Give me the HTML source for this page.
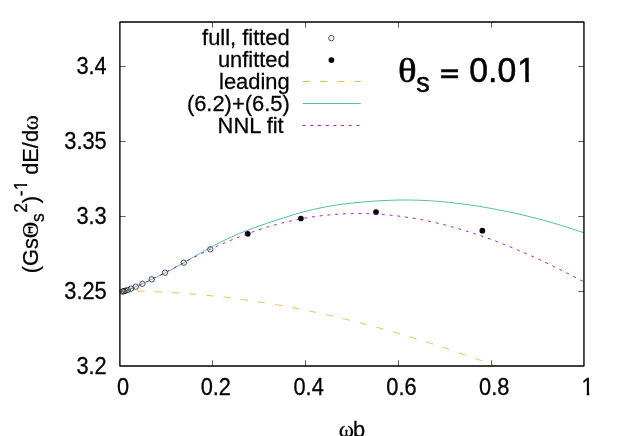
<!DOCTYPE html>
<html><head><meta charset="utf-8"><title>plot</title>
<style>
html,body{margin:0;padding:0;background:#fff;}
body{width:623px;height:436px;overflow:hidden;}
svg{display:block;will-change:transform;}
text{font-family:"Liberation Sans",sans-serif;fill:#000;stroke:#000;stroke-width:0.26px;stroke-linejoin:round;}
.tt text{stroke-width:0.5px;}
</style></head><body>
<svg width="623" height="436" viewBox="0 0 623 436">
<rect x="0" y="0" width="623" height="436" fill="#fff"/>
<g stroke="#000" stroke-width="0.64" fill="none">
<path d="M119.90,291.50 h5.7 M583.95,291.50 h-5.7"/>
<path d="M119.90,216.50 h5.7 M583.95,216.50 h-5.7"/>
<path d="M119.90,141.50 h5.7 M583.95,141.50 h-5.7"/>
<path d="M119.90,66.50 h5.7 M583.95,66.50 h-5.7"/>
<path d="M212.50,366.00 v-5.7 M212.50,22.00 v5.7"/>
<path d="M305.50,366.00 v-5.7 M305.50,22.00 v5.7"/>
<path d="M398.50,366.00 v-5.7 M398.50,22.00 v5.7"/>
<path d="M491.50,366.00 v-5.7 M491.50,22.00 v5.7"/>
</g>
<text transform="translate(106.70,374.30) scale(1,1.06)" font-size="21.80px" text-anchor="end">3.2</text>
<text transform="translate(106.70,299.30) scale(1,1.06)" font-size="21.80px" text-anchor="end">3.25</text>
<text transform="translate(106.70,224.30) scale(1,1.06)" font-size="21.80px" text-anchor="end">3.3</text>
<text transform="translate(106.70,149.30) scale(1,1.06)" font-size="21.80px" text-anchor="end">3.35</text>
<text transform="translate(106.70,74.30) scale(1,1.06)" font-size="21.80px" text-anchor="end">3.4</text>
<text transform="translate(123.00,395.30) scale(1,1.06)" font-size="21.80px" text-anchor="middle">0</text>
<text transform="translate(215.81,395.30) scale(1,1.06)" font-size="21.80px" text-anchor="middle">0.2</text>
<text transform="translate(308.62,395.30) scale(1,1.06)" font-size="21.80px" text-anchor="middle">0.4</text>
<text transform="translate(401.43,395.30) scale(1,1.06)" font-size="21.80px" text-anchor="middle">0.6</text>
<text transform="translate(494.24,395.30) scale(1,1.06)" font-size="21.80px" text-anchor="middle">0.8</text>
<clipPath id="c1_1"><path d="M-2,-21.80 H13.08 V-2.57 H7.71 V1 H5.18 V-2.57 H-2 Z"/></clipPath><text transform="translate(581.59,395.30) scale(1,1.06)" font-size="21.80px" clip-path="url(#c1_1)">1</text>
<g fill="none" stroke="#000" stroke-width="0.7">
<circle cx="210.27" cy="249.32" r="2.7"/>
<circle cx="183.76" cy="262.69" r="2.7"/>
<circle cx="165.01" cy="272.66" r="2.7"/>
<circle cx="151.75" cy="279.36" r="2.7"/>
<circle cx="142.38" cy="283.76" r="2.7"/>
<circle cx="135.75" cy="286.70" r="2.7"/>
<circle cx="131.06" cy="288.65" r="2.7"/>
<circle cx="127.75" cy="289.94" r="2.7"/>
<circle cx="125.41" cy="290.75" r="2.7"/>
<circle cx="123.75" cy="291.24" r="2.7"/>
<circle cx="122.58" cy="291.50" r="2.7"/>
</g>
<g fill="#000" stroke="none">
<circle cx="247.75" cy="233.75" r="2.85"/>
<circle cx="300.90" cy="218.50" r="2.85"/>
<circle cx="376.00" cy="212.10" r="2.85"/>
<circle cx="482.35" cy="230.70" r="2.85"/>
</g>
<path d="M119.75,291.00 L120.91,291.00 L122.07,291.00 L123.23,291.01 L124.39,291.01 L125.55,291.02 L126.71,291.03 L127.87,291.04 L129.03,291.05 L130.19,291.06 L131.35,291.08 L132.52,291.09 L133.68,291.11 L134.84,291.13 L136.00,291.15 L137.16,291.17 L138.32,291.19 L139.48,291.22 L140.64,291.25 L141.80,291.27 L142.96,291.30 L144.12,291.34 L145.28,291.37 L146.44,291.40 L147.60,291.44 L148.76,291.48 L149.92,291.51 L151.08,291.55 L152.24,291.60 L153.40,291.64 L154.56,291.68 L155.73,291.73 L156.89,291.78 L158.05,291.83 L159.21,291.88 L160.37,291.93 L161.53,291.99 L162.69,292.04 L163.85,292.10 L165.01,292.16 L166.17,292.22 L167.33,292.28 L168.49,292.34 L169.65,292.41 L170.81,292.47 L171.97,292.54 L173.13,292.61 L174.29,292.68 L175.45,292.75 L176.61,292.82 L177.78,292.90 L178.94,292.98 L180.10,293.05 L181.26,293.13 L182.42,293.22 L183.58,293.30 L184.74,293.38 L185.90,293.47 L187.06,293.56 L188.22,293.64 L189.38,293.73 L190.54,293.83 L191.70,293.92 L192.86,294.01 L194.02,294.11 L195.18,294.21 L196.34,294.31 L197.50,294.41 L198.66,294.51 L199.82,294.61 L200.99,294.72 L202.15,294.83 L203.31,294.93 L204.47,295.04 L205.63,295.15 L206.79,295.27 L207.95,295.38 L209.11,295.50 L210.27,295.61 L211.43,295.73 L212.59,295.85 L213.75,295.97 L214.91,296.10 L216.07,296.22 L217.23,296.35 L218.39,296.48 L219.55,296.60 L220.71,296.73 L221.87,296.87 L223.03,297.00 L224.19,297.14 L225.36,297.27 L226.52,297.41 L227.68,297.55 L228.84,297.69 L230.00,297.83 L231.16,297.98 L232.32,298.12 L233.48,298.27 L234.64,298.42 L235.80,298.57 L236.96,298.72 L238.12,298.87 L239.28,299.02 L240.44,299.18 L241.60,299.34 L242.76,299.49 L243.92,299.65 L245.08,299.82 L246.24,299.98 L247.41,300.14 L248.57,300.31 L249.73,300.48 L250.89,300.64 L252.05,300.81 L253.21,300.99 L254.37,301.16 L255.53,301.33 L256.69,301.51 L257.85,301.69 L259.01,301.87 L260.17,302.05 L261.33,302.23 L262.49,302.41 L263.65,302.60 L264.81,302.78 L265.97,302.97 L267.13,303.16 L268.29,303.35 L269.45,303.54 L270.62,303.73 L271.78,303.93 L272.94,304.12 L274.10,304.32 L275.26,304.52 L276.42,304.72 L277.58,304.92 L278.74,305.13 L279.90,305.33 L281.06,305.54 L282.22,305.74 L283.38,305.95 L284.54,306.16 L285.70,306.37 L286.86,306.59 L288.02,306.80 L289.18,307.02 L290.34,307.24 L291.50,307.45 L292.66,307.67 L293.83,307.90 L294.99,308.12 L296.15,308.34 L297.31,308.57 L298.47,308.80 L299.63,309.02 L300.79,309.25 L301.95,309.49 L303.11,309.72 L304.27,309.95 L305.43,310.19 L306.59,310.42 L307.75,310.66 L308.91,310.90 L310.07,311.14 L311.23,311.39 L312.39,311.63 L313.55,311.87 L314.71,312.12 L315.87,312.37 L317.04,312.62 L318.20,312.87 L319.36,313.12 L320.52,313.37 L321.68,313.63 L322.84,313.88 L324.00,314.14 L325.16,314.40 L326.32,314.66 L327.48,314.92 L328.64,315.19 L329.80,315.45 L330.96,315.71 L332.12,315.98 L333.28,316.25 L334.44,316.52 L335.60,316.79 L336.76,317.06 L337.92,317.34 L339.08,317.61 L340.25,317.89 L341.41,318.16 L342.57,318.44 L343.73,318.72 L344.89,319.00 L346.05,319.29 L347.21,319.57 L348.37,319.86 L349.53,320.14 L350.69,320.43 L351.85,320.72 L353.01,321.01 L354.17,321.30 L355.33,321.60 L356.49,321.89 L357.65,322.19 L358.81,322.48 L359.97,322.78 L361.13,323.08 L362.29,323.38 L363.46,323.69 L364.62,323.99 L365.78,324.29 L366.94,324.60 L368.10,324.91 L369.26,325.22 L370.42,325.53 L371.58,325.84 L372.74,326.15 L373.90,326.46 L375.06,326.78 L376.22,327.09 L377.38,327.41 L378.54,327.73 L379.70,328.05 L380.86,328.37 L382.02,328.69 L383.18,329.02 L384.34,329.34 L385.50,329.67 L386.67,330.00 L387.83,330.33 L388.99,330.66 L390.15,330.99 L391.31,331.32 L392.47,331.65 L393.63,331.99 L394.79,332.32 L395.95,332.66 L397.11,333.00 L398.27,333.34 L399.43,333.68 L400.59,334.02 L401.75,334.37 L402.91,334.71 L404.07,335.06 L405.23,335.40 L406.39,335.75 L407.55,336.10 L408.71,336.45 L409.88,336.80 L411.04,337.16 L412.20,337.51 L413.36,337.87 L414.52,338.22 L415.68,338.58 L416.84,338.94 L418.00,339.30 L419.16,339.66 L420.32,340.02 L421.48,340.38 L422.64,340.75 L423.80,341.11 L424.96,341.48 L426.12,341.85 L427.28,342.22 L428.44,342.59 L429.60,342.96 L430.76,343.33 L431.92,343.71 L433.09,344.08 L434.25,344.46 L435.41,344.83 L436.57,345.21 L437.73,345.59 L438.89,345.97 L440.05,346.35 L441.21,346.74 L442.37,347.12 L443.53,347.51 L444.69,347.89 L445.85,348.28 L447.01,348.67 L448.17,349.06 L449.33,349.45 L450.49,349.84 L451.65,350.23 L452.81,350.62 L453.97,351.02 L455.13,351.41 L456.30,351.81 L457.46,352.21 L458.62,352.61 L459.78,353.01 L460.94,353.41 L462.10,353.81 L463.26,354.21 L464.42,354.62 L465.58,355.02 L466.74,355.43 L467.90,355.84 L469.06,356.25 L470.22,356.66 L471.38,357.07 L472.54,357.48 L473.70,357.89 L474.86,358.30 L476.02,358.72 L477.18,359.13 L478.34,359.55 L479.51,359.97 L480.67,360.39 L481.83,360.80 L482.99,361.23 L484.15,361.65 L485.31,362.07 L486.47,362.49 L487.63,362.92 L488.79,363.34 L489.95,363.77 L491.11,364.20 L492.27,364.62 L493.43,365.05 L494.59,365.48 L495.75,365.92 L495.98,366.00" fill="none" stroke="#E69F00" stroke-width="0.7" stroke-dasharray="7.2,10.1" stroke-dashoffset="-0.4"/>
<path d="M119.90,290.08 L120.90,292.03 L121.91,292.12 L122.91,291.95 L123.91,291.67 L124.91,291.33 L125.92,290.95 L126.92,290.54 L127.92,290.12 L128.92,289.69 L129.93,289.25 L130.93,288.81 L131.93,288.36 L132.93,287.91 L133.94,287.46 L134.94,287.01 L135.94,286.56 L136.94,286.10 L137.94,285.65 L138.95,285.19 L139.95,284.74 L140.95,284.28 L141.96,283.83 L142.96,283.37 L143.96,282.92 L144.96,282.46 L145.97,282.00 L146.97,281.54 L147.97,281.08 L148.97,280.62 L149.97,280.15 L150.98,279.69 L151.98,279.22 L152.98,278.75 L153.99,278.28 L154.99,277.80 L155.99,277.33 L156.99,276.85 L158.00,276.37 L159.00,275.88 L160.00,275.39 L162.00,274.41 L164.00,273.41 L166.00,272.40 L168.00,271.37 L170.00,270.33 L172.00,269.27 L174.00,268.19 L176.00,267.10 L178.00,265.99 L180.00,264.87 L182.00,263.74 L184.00,262.60 L186.00,261.45 L188.00,260.29 L190.00,259.13 L192.00,257.97 L194.00,256.80 L196.00,255.64 L198.00,254.48 L200.00,253.33 L202.00,252.19 L204.00,251.05 L206.00,249.93 L208.00,248.82 L210.00,247.72 L212.00,246.64 L214.00,245.57 L216.00,244.52 L218.00,243.49 L220.00,242.47 L222.00,241.47 L224.00,240.49 L226.00,239.53 L228.00,238.59 L230.00,237.67 L232.00,236.76 L234.00,235.87 L236.00,235.00 L238.00,234.15 L240.00,233.31 L242.00,232.49 L244.00,231.68 L246.00,230.89 L248.00,230.12 L250.00,229.35 L252.00,228.61 L254.00,227.87 L256.00,227.14 L258.00,226.42 L260.00,225.72 L262.00,225.02 L264.00,224.33 L266.00,223.65 L268.00,222.97 L270.00,222.30 L272.00,221.63 L274.00,220.96 L276.00,220.31 L278.00,219.65 L280.00,219.00 L282.00,218.36 L284.00,217.72 L286.00,217.09 L288.00,216.46 L290.00,215.84 L292.00,215.23 L294.00,214.63 L296.00,214.04 L298.00,213.46 L300.00,212.89 L302.00,212.34 L304.00,211.80 L306.00,211.27 L308.00,210.75 L310.00,210.26 L312.00,209.77 L314.00,209.30 L316.00,208.85 L318.00,208.41 L320.00,207.99 L322.00,207.58 L324.00,207.19 L326.00,206.81 L328.00,206.45 L330.00,206.10 L332.00,205.77 L334.00,205.45 L336.00,205.14 L338.00,204.85 L340.00,204.56 L342.00,204.29 L344.00,204.03 L346.00,203.78 L348.00,203.55 L350.00,203.31 L352.00,203.09 L354.00,202.88 L356.00,202.67 L358.00,202.48 L360.00,202.29 L362.00,202.10 L364.00,201.93 L366.00,201.76 L368.00,201.60 L370.00,201.44 L372.00,201.29 L374.00,201.15 L376.00,201.02 L378.00,200.89 L380.00,200.77 L382.00,200.66 L384.00,200.56 L386.00,200.46 L388.00,200.37 L390.00,200.30 L392.00,200.23 L394.00,200.17 L396.00,200.12 L398.00,200.07 L400.00,200.04 L402.00,200.02 L404.00,200.01 L406.00,200.01 L408.00,200.02 L410.00,200.04 L412.00,200.07 L414.00,200.11 L416.00,200.16 L418.00,200.22 L420.00,200.29 L422.00,200.37 L424.00,200.46 L426.00,200.56 L428.00,200.67 L430.00,200.79 L432.00,200.91 L434.00,201.05 L436.00,201.20 L438.00,201.35 L440.00,201.52 L442.00,201.69 L444.00,201.87 L446.00,202.06 L448.00,202.26 L450.00,202.47 L452.00,202.69 L454.00,202.91 L456.00,203.15 L458.00,203.39 L460.00,203.63 L462.00,203.89 L464.00,204.15 L466.00,204.43 L468.00,204.70 L470.00,204.99 L472.00,205.28 L474.00,205.58 L476.00,205.89 L478.00,206.21 L480.00,206.53 L482.00,206.85 L484.00,207.19 L486.00,207.53 L488.00,207.88 L490.00,208.23 L492.00,208.59 L494.00,208.96 L496.00,209.34 L498.00,209.72 L500.00,210.10 L502.00,210.50 L504.00,210.90 L506.00,211.31 L508.00,211.72 L510.00,212.14 L512.00,212.57 L514.00,213.00 L516.00,213.45 L518.00,213.89 L520.00,214.35 L522.00,214.81 L524.00,215.28 L526.00,215.76 L528.00,216.25 L530.00,216.74 L532.00,217.24 L534.00,217.75 L536.00,218.26 L538.00,218.78 L540.00,219.31 L542.00,219.85 L544.00,220.40 L546.00,220.95 L548.00,221.51 L550.00,222.08 L552.00,222.65 L554.00,223.23 L556.00,223.82 L558.00,224.42 L560.00,225.02 L562.00,225.64 L564.00,226.25 L566.00,226.88 L568.00,227.51 L570.00,228.15 L572.00,228.79 L574.00,229.44 L576.00,230.09 L578.00,230.76 L580.00,231.42 L582.00,232.09 L584.00,232.77" fill="none" stroke="#009E73" stroke-width="0.66"/>
<path d="M119.90,290.44 L120.90,291.61 L121.91,291.61 L122.91,291.45 L123.91,291.21 L124.91,290.91 L125.92,290.59 L126.92,290.24 L127.92,289.87 L128.92,289.50 L129.93,289.11 L130.93,288.71 L131.93,288.30 L132.93,287.89 L133.94,287.47 L134.94,287.04 L135.94,286.61 L136.94,286.18 L137.94,285.74 L138.95,285.30 L139.95,284.86 L140.95,284.41 L141.96,283.95 L142.96,283.50 L143.96,283.04 L144.96,282.58 L145.97,282.11 L146.97,281.64 L147.97,281.17 L148.97,280.69 L149.97,280.21 L150.98,279.73 L151.98,279.25 L152.98,278.76 L153.99,278.26 L154.99,277.77 L155.99,277.27 L156.99,276.77 L158.00,276.26 L159.00,275.76 L160.00,275.25 L162.00,274.22 L164.00,273.18 L166.00,272.14 L168.00,271.09 L170.00,270.03 L172.00,268.97 L174.00,267.90 L176.00,266.83 L178.00,265.76 L180.00,264.69 L182.00,263.63 L184.00,262.56 L186.00,261.50 L188.00,260.45 L190.00,259.40 L192.00,258.36 L194.00,257.33 L196.00,256.31 L198.00,255.30 L200.00,254.30 L202.00,253.30 L204.00,252.32 L206.00,251.35 L208.00,250.39 L210.00,249.44 L212.00,248.50 L214.00,247.58 L216.00,246.66 L218.00,245.76 L220.00,244.87 L222.00,243.99 L224.00,243.12 L226.00,242.26 L228.00,241.41 L230.00,240.58 L232.00,239.75 L234.00,238.94 L236.00,238.14 L238.00,237.34 L240.00,236.57 L242.00,235.80 L244.00,235.04 L246.00,234.30 L248.00,233.56 L250.00,232.84 L252.00,232.13 L254.00,231.44 L256.00,230.75 L258.00,230.08 L260.00,229.42 L262.00,228.77 L264.00,228.14 L266.00,227.52 L268.00,226.91 L270.00,226.31 L272.00,225.73 L274.00,225.16 L276.00,224.61 L278.00,224.06 L280.00,223.54 L282.00,223.02 L284.00,222.52 L286.00,222.03 L288.00,221.56 L290.00,221.10 L292.00,220.65 L294.00,220.22 L296.00,219.80 L298.00,219.40 L300.00,219.01 L302.00,218.63 L304.00,218.27 L306.00,217.92 L308.00,217.59 L310.00,217.27 L312.00,216.96 L314.00,216.66 L316.00,216.38 L318.00,216.12 L320.00,215.86 L322.00,215.63 L324.00,215.40 L326.00,215.19 L328.00,214.99 L330.00,214.80 L332.00,214.63 L334.00,214.47 L336.00,214.32 L338.00,214.19 L340.00,214.07 L342.00,213.96 L344.00,213.87 L346.00,213.79 L348.00,213.72 L350.00,213.66 L352.00,213.62 L354.00,213.59 L356.00,213.57 L358.00,213.57 L360.00,213.57 L362.00,213.59 L364.00,213.63 L366.00,213.67 L368.00,213.73 L370.00,213.79 L372.00,213.88 L374.00,213.97 L376.00,214.07 L378.00,214.19 L380.00,214.32 L382.00,214.46 L384.00,214.62 L386.00,214.79 L388.00,214.96 L390.00,215.15 L392.00,215.36 L394.00,215.57 L396.00,215.80 L398.00,216.04 L400.00,216.29 L402.00,216.55 L404.00,216.82 L406.00,217.11 L408.00,217.41 L410.00,217.72 L412.00,218.04 L414.00,218.37 L416.00,218.72 L418.00,219.08 L420.00,219.44 L422.00,219.82 L424.00,220.21 L426.00,220.62 L428.00,221.03 L430.00,221.46 L432.00,221.89 L434.00,222.34 L436.00,222.80 L438.00,223.27 L440.00,223.75 L442.00,224.24 L444.00,224.74 L446.00,225.25 L448.00,225.77 L450.00,226.30 L452.00,226.85 L454.00,227.40 L456.00,227.97 L458.00,228.54 L460.00,229.12 L462.00,229.72 L464.00,230.32 L466.00,230.93 L468.00,231.56 L470.00,232.19 L472.00,232.83 L474.00,233.49 L476.00,234.15 L478.00,234.82 L480.00,235.50 L482.00,236.19 L484.00,236.89 L486.00,237.59 L488.00,238.31 L490.00,239.04 L492.00,239.77 L494.00,240.51 L496.00,241.27 L498.00,242.03 L500.00,242.80 L502.00,243.57 L504.00,244.36 L506.00,245.15 L508.00,245.96 L510.00,246.77 L512.00,247.59 L514.00,248.42 L516.00,249.25 L518.00,250.09 L520.00,250.95 L522.00,251.81 L524.00,252.67 L526.00,253.55 L528.00,254.43 L530.00,255.32 L532.00,256.22 L534.00,257.12 L536.00,258.04 L538.00,258.96 L540.00,259.88 L542.00,260.82 L544.00,261.76 L546.00,262.71 L548.00,263.66 L550.00,264.62 L552.00,265.59 L554.00,266.57 L556.00,267.55 L558.00,268.54 L560.00,269.53 L562.00,270.53 L564.00,271.54 L566.00,272.55 L568.00,273.57 L570.00,274.60 L572.00,275.63 L574.00,276.67 L576.00,277.72 L578.00,278.77 L580.00,279.82 L582.00,280.88 L584.00,281.95" fill="none" stroke="#9400D3" stroke-width="0.86" stroke-dasharray="2.9,4.89" stroke-dashoffset="2.6"/>
<text x="289.70" y="44.85" font-size="21.90px" text-anchor="end">full, fitted</text>
<text x="289.70" y="66.85" font-size="21.90px" text-anchor="end">unfitted</text>
<text x="289.70" y="88.85" font-size="21.90px" text-anchor="end">leading</text>
<text x="289.70" y="110.85" font-size="21.90px" text-anchor="end">(6.2)+(6.5)</text>
<text x="283.70" y="132.85" font-size="21.90px" text-anchor="end">NNL fit</text>
<circle cx="331.4" cy="38.1" r="2.7" fill="none" stroke="#000" stroke-width="0.7"/>
<circle cx="331.4" cy="60.1" r="2.85" fill="#000"/>
<path d="M302.8,81.5 H360.8" fill="none" stroke="#E69F00" stroke-width="0.7" stroke-dasharray="7.2,10.1"/>
<path d="M302.8,103.5 H360.8" fill="none" stroke="#009E73" stroke-width="0.66"/>
<path d="M302.6,125.5 H360.8" fill="none" stroke="#9400D3" stroke-width="0.86" stroke-dasharray="2.9,4.8"/>
<rect x="119.90" y="22.00" width="464.05" height="344.00" fill="none" stroke="#000" stroke-width="1.38" stroke-linejoin="round"/>
<g class="tt">
<text transform="translate(398.10,81.75) scale(1.17,1)" font-size="33.20px" style="font-family:'Liberation Serif',serif">θ</text>
<text x="416.15" y="91.70" font-size="27.04px">s</text>
<text x="439.66" y="81.84" font-size="33.80px">−</text>
<text x="439.66" y="87.74" font-size="33.80px">−</text>
<text transform="translate(469.30,81.70) scale(1,1.05)" font-size="33.80px">0.0</text>
<clipPath id="c1_2"><path d="M-2,-33.80 H20.28 V-3.48 H11.79 V1 H8.20 V-3.48 H-2 Z"/></clipPath><text transform="translate(517.08,81.70) scale(1,1.05)" font-size="33.80px" clip-path="url(#c1_2)">1</text>
</g>
<text x="338.71" y="437.40" font-size="23.11px" style="font-family:'Liberation Serif',serif">ω</text>
<text x="352.97" y="437.20" font-size="21.80px">b</text>
<g transform="translate(37.9,273.25) rotate(-90)">
<text x="0.00" y="0.00" font-size="21.80px">(Gs</text>
<text x="34.93" y="0.00" font-size="22.89px" style="font-family:'Liberation Serif',serif">Θ</text>
<text x="51.27" y="6.40" font-size="17.44px">s</text>
<text transform="translate(60.39,-11.00) scale(1,1.06)" font-size="17.44px">2</text>
<text x="70.09" y="0.00" font-size="21.80px">)</text>
<text x="76.90" y="-11.00" font-size="17.44px">-</text>
<clipPath id="c1_3"><path d="M-2,-17.44 H10.46 V-2.25 H6.23 V1 H4.09 V-2.25 H-2 Z"/></clipPath><text transform="translate(83.10,-11.00) scale(1,1.06)" font-size="17.44px" clip-path="url(#c1_3)">1</text>
<text x="98.46" y="0.00" font-size="21.80px">dE/d</text>
<text x="143.10" y="0.00" font-size="22.89px" style="font-family:'Liberation Serif',serif">ω</text>
</g>
</svg></body></html>
